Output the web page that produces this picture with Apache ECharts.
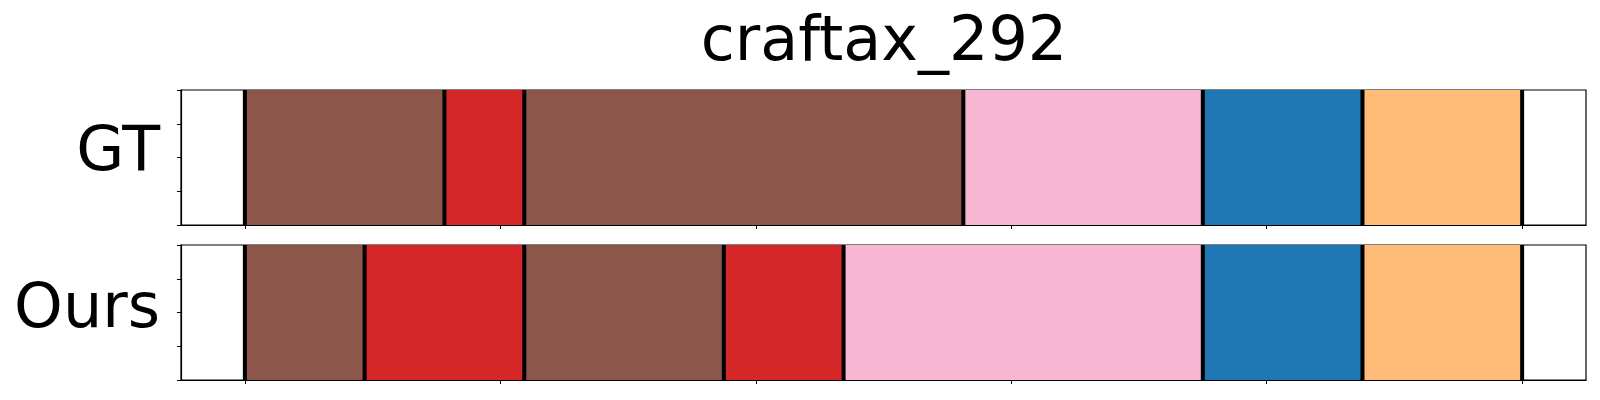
<!DOCTYPE html>
<html>
<head>
<meta charset="utf-8">
<script src="https://cdn.jsdelivr.net/npm/echarts@6/dist/echarts.min.js"></script>
<style>
html,body{margin:0;padding:0;background:#fff;}
#chart{width:1600px;height:400px;}
</style>
</head>
<body>
<div id="chart"></div>
<script>
// ---- data ----
var title = 'craftax_292';
var rowNames = ['GT', 'Ours'];
// segment boundaries (normalized time)
var gtBounds = [0, 0.15625, 0.21875, 0.5625, 0.75, 0.875, 1];
var gtClasses = ['brown', 'red', 'brown', 'pink', 'blue', 'orange'];
var oursBounds = [0, 0.09375, 0.21875, 0.375, 0.46875, 0.75, 0.875, 1];
var oursClasses = ['brown', 'red', 'brown', 'red', 'pink', 'blue', 'orange'];
var xTicks = [0, 0.2, 0.4, 0.6, 0.8, 1.0];
var yTicks = [0, 0.25, 0.5, 0.75, 1];

// ---- styles ----
var classColor = {
  brown: '#8c564b', red: '#d62728', pink: '#f7b6d2', blue: '#1f77b4', orange: '#ffbb78'
};

function segData(bounds, classes) {
  var out = [];
  for (var i = 0; i < classes.length; i++) out.push([bounds[i], bounds[i + 1], classes[i]]);
  return out;
}

var chart = echarts.init(document.getElementById('chart'), null, {renderer: 'canvas'});

var segsAll = [segData(gtBounds, gtClasses), segData(oursBounds, oursClasses)];

function makeSegRender(row) {
  return function (params, api) {
    var s = api.coord([api.value(0), 1]);
    var e = api.coord([api.value(1), 0]);
    var cls = segsAll[row][params.dataIndex][2];
    return {
      type: 'rect',
      shape: {x: s[0], y: s[1], width: e[0] - s[0], height: e[1] - s[1]},
      style: {fill: classColor[cls]}
    };
  };
}
function lineRender(params, api) {
  var t = api.coord([api.value(0), 1]);
  var b = api.coord([api.value(0), 0]);
  return {
    type: 'line',
    shape: {x1: t[0], y1: t[1], x2: b[0], y2: b[1]},
    style: {stroke: '#000', lineWidth: 4}
  };
}

var grids = [
  {left: 181, right: 14, top: 90, height: 135},
  {left: 181, right: 14, top: 245, height: 135}
];
grids.forEach(function (g) { g.show = true; g.borderColor = '#000'; g.borderWidth = 1.2; g.backgroundColor = '#fff'; });

var xAxes = [], yAxes = [], series = [];
for (var i = 0; i < 2; i++) {
  xAxes.push({
    type: 'value', gridIndex: i, min: -0.05, max: 1.05,
    axisLine: {show: true, onZero: false, lineStyle: {color: '#000', width: 1.2}},
    axisTick: {show: true, inside: false, length: 4, customValues: xTicks, lineStyle: {color: '#000', width: 1}},
    axisLabel: {show: false},
    splitLine: {show: false}
  });
  yAxes.push({
    type: 'value', gridIndex: i, min: 0, max: 1, interval: 0.25,
    axisLine: {show: true, onZero: false, lineStyle: {color: '#000', width: 1.2}},
    axisTick: {show: true, inside: false, length: 4, customValues: yTicks, lineStyle: {color: '#000', width: 1}},
    axisLabel: {show: false},
    splitLine: {show: false}
  });
  series.push({
    type: 'custom', xAxisIndex: i, yAxisIndex: i, renderItem: makeSegRender(i),
    data: segsAll[i].map(function (d) { return [d[0], d[1]]; }), silent: true, z: 2
  });
}
series.push({type: 'custom', xAxisIndex: 0, yAxisIndex: 0, renderItem: lineRender, data: gtBounds.map(function (v) { return [v]; }), silent: true, z: 3});
series.push({type: 'custom', xAxisIndex: 1, yAxisIndex: 1, renderItem: lineRender, data: oursBounds.map(function (v) { return [v]; }), silent: true, z: 3});

var font = 'DejaVu Sans';
chart.setOption({
  animation: false,
  backgroundColor: '#fff',
  title: {
    text: title, left: 879, top: 8, textAlign: 'center',
    textStyle: {fontFamily: font, fontSize: 62, fontWeight: 'normal', color: '#000'}
  },
  grid: grids,
  xAxis: xAxes,
  yAxis: yAxes,
  series: series,
  graphic: [
    {type: 'text', right: 1600 - 160, top: 123, style: {text: rowNames[0], fontFamily: font, fontSize: 62, fill: '#000'}},
    {type: 'text', right: 1600 - 160, top: 280, style: {text: rowNames[1], fontFamily: font, fontSize: 62, fill: '#000'}}
  ]
});
</script>
</body>
</html>
